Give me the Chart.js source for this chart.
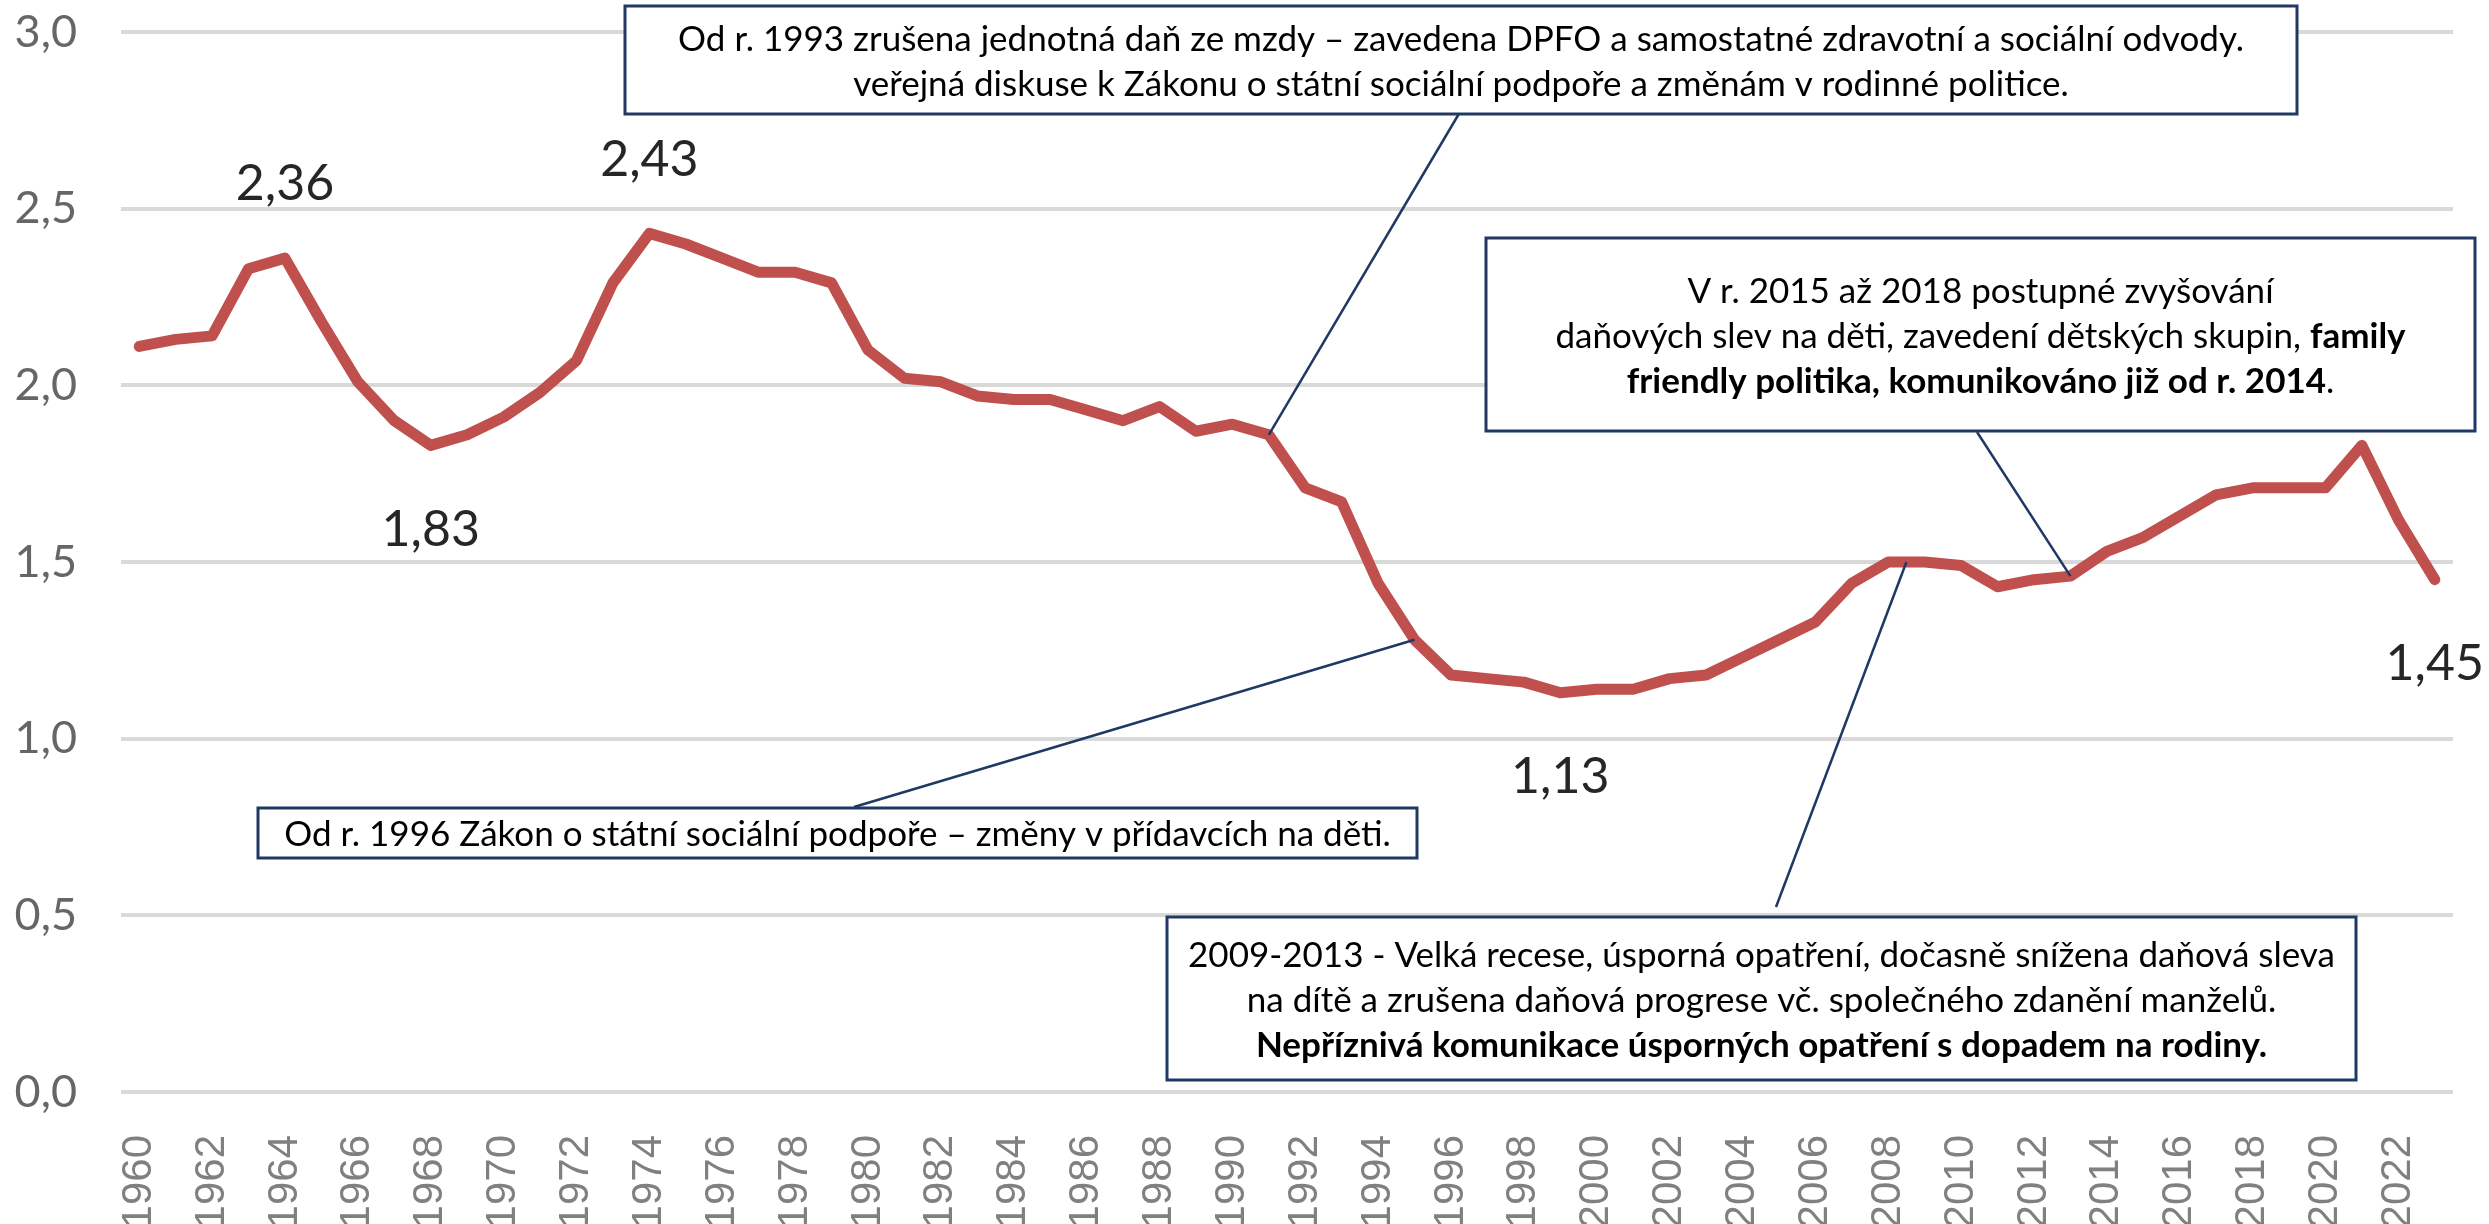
<!DOCTYPE html>
<html>
<head>
<meta charset="utf-8">
<script src="https://cdn.jsdelivr.net/npm/chart.js@4.4.1/dist/chart.umd.min.js"></script>
<style>
  html, body { margin: 0; padding: 0; background: #fff; }
  canvas { display: block; }
</style>
</head>
<body>
<canvas id="chart" width="2489" height="1224"></canvas>
<script>
// Úhrnná plodnost, ČR 1960-2023
const years = [
  '1960','1961','1962','1963','1964','1965','1966','1967','1968','1969',
  '1970','1971','1972','1973','1974','1975','1976','1977','1978','1979',
  '1980','1981','1982','1983','1984','1985','1986','1987','1988','1989',
  '1990','1991','1992','1993','1994','1995','1996','1997','1998','1999',
  '2000','2001','2002','2003','2004','2005','2006','2007','2008','2009',
  '2010','2011','2012','2013','2014','2015','2016','2017','2018','2019',
  '2020','2021','2022','2023'
];
const fertility = [
  2.11, 2.13, 2.14, 2.33, 2.36, 2.18, 2.01, 1.90, 1.83, 1.86,
  1.91, 1.98, 2.07, 2.29, 2.43, 2.40, 2.36, 2.32, 2.32, 2.29,
  2.10, 2.02, 2.01, 1.97, 1.96, 1.96, 1.93, 1.90, 1.94, 1.87,
  1.89, 1.86, 1.71, 1.67, 1.44, 1.28, 1.18, 1.17, 1.16, 1.13,
  1.14, 1.14, 1.17, 1.18, 1.23, 1.28, 1.33, 1.44, 1.50, 1.50,
  1.49, 1.43, 1.45, 1.46, 1.53, 1.57, 1.63, 1.69, 1.71, 1.71,
  1.71, 1.83, 1.62, 1.45
];
const yTicks = [0, 0.5, 1, 1.5, 2, 2.5, 3];

// years that get a value label, and on which side
const labelledYears = ['1964', '1968', '1974', '1999', '2023'];
const labelSides = ['above', 'below', 'above', 'below', 'below'];

// annotation texts: each line is a list of [text, bold]
const note1993 = [
  [['Od r. 1993 zrušena jednotná daň ze mzdy – zavedena DPFO a samostatné zdravotní a sociální odvody.', false]],
  [['veřejná diskuse k Zákonu o státní sociální podpoře a změnám v rodinné politice.', false]]
];
const note2015 = [
  [['V r. 2015 až 2018 postupné zvyšování', false]],
  [['daňových slev na děti, zavedení dětských skupin, ', false], ['family', true]],
  [['friendly politika, komunikováno již od r. 2014', true], ['.', false]]
];
const note1996 = [
  [['Od r. 1996 Zákon o státní sociální podpoře – změny v přídavcích na děti.', false]]
];
const note2009 = [
  [['2009-2013 - Velká recese, úsporná opatření, dočasně snížena daňová sleva', false]],
  [['na dítě a zrušena daňová progrese vč. společného zdanění manželů.', false]],
  [['Nepříznivá komunikace úsporných opatření s dopadem na rodiny.', true]]
];
// which point each callout refers to (fractional index = between two years)
const noteTargets = [[31, 1.86], [53, 1.46], [35, 1.28], [48.5, 1.50]];

const TEXT_FONT = 'Lato, "Open Sans", sans-serif';
const NOTE_SIZE = 35;
const NAVY = '#1F3864';

// box geometry on the canvas, in the same order as notes
const noteBoxes = [
  { lines: note1993, x: 625,  y: 6,   w: 1672, h: 108, from: [1460, 112] },
  { lines: note2015, x: 1486, y: 238, w: 989,  h: 193, from: [1977, 432] },
  { lines: note1996, x: 258,  y: 808, w: 1159, h: 50,  from: [854, 807] },
  { lines: note2009, x: 1167, y: 917, w: 1189, h: 163, from: [1776, 907] }
];

const fmt = v => v.toFixed(2).replace('.', ',');

const notesPlugin = {
  id: 'notes',
  afterDatasetsDraw(chart) {
    const { ctx, scales: { x, y } } = chart;
    ctx.save();

    // value labels at the extremes
    ctx.font = '50px ' + TEXT_FONT;
    ctx.fillStyle = '#262626';
    ctx.textAlign = 'center';
    ctx.textBaseline = 'middle';
    labelledYears.forEach((yr, k) => {
      const i = years.indexOf(yr);
      const px = x.getPixelForValue(i);
      const py = y.getPixelForValue(fertility[i]);
      ctx.fillText(fmt(fertility[i]), px, py + (labelSides[k] === 'above' ? -74 : 84));
    });

    // leader lines
    ctx.strokeStyle = NAVY;
    ctx.lineWidth = 2.5;
    noteBoxes.forEach((b, k) => {
      const t = noteTargets[k];
      ctx.beginPath();
      ctx.moveTo(b.from[0], b.from[1]);
      ctx.lineTo(x.getPixelForValue(t[0]), y.getPixelForValue(t[1]));
      ctx.stroke();
    });

    // boxes with centred rich text
    const lineGap = 45;
    noteBoxes.forEach(b => {
      ctx.fillStyle = '#fff';
      ctx.fillRect(b.x, b.y, b.w, b.h);
      ctx.lineWidth = 3;
      ctx.strokeStyle = NAVY;
      ctx.strokeRect(b.x, b.y, b.w, b.h);

      ctx.fillStyle = '#000';
      ctx.textAlign = 'left';
      ctx.textBaseline = 'middle';
      const cx = b.x + b.w / 2;
      const cy = b.y + b.h / 2 + 2;
      const n = b.lines.length;
      b.lines.forEach((segs, li) => {
        let total = 0;
        segs.forEach(([txt, bold]) => {
          ctx.font = (bold ? 'bold ' : '') + NOTE_SIZE + 'px ' + TEXT_FONT;
          total += ctx.measureText(txt).width;
        });
        let tx = cx - total / 2;
        const ty = cy + (li - (n - 1) / 2) * lineGap;
        segs.forEach(([txt, bold]) => {
          ctx.font = (bold ? 'bold ' : '') + NOTE_SIZE + 'px ' + TEXT_FONT;
          ctx.fillText(txt, tx, ty);
          tx += ctx.measureText(txt).width;
        });
      });
    });

    ctx.restore();
  }
};

new Chart(document.getElementById('chart'), {
  type: 'line',
  data: {
    labels: years,
    datasets: [{
      data: fertility,
      borderColor: '#C0504D',
      borderWidth: 11,
      borderJoinStyle: 'round',
      borderCapStyle: 'round',
      pointRadius: 0,
      tension: 0,
      fill: false
    }]
  },
  options: {
    responsive: false,
    animation: false,
    layout: { padding: { top: 32, right: 36, left: 0, bottom: 0 } },
    plugins: {
      legend: { display: false },
      tooltip: { enabled: false }
    },
    scales: {
      x: {
        type: 'category',
        offset: true,
        grid: { display: false },
        border: { display: false },
        afterFit: s => {
          s.height = 132;
          // rotated labels should not eat into the plot width
          s.paddingLeft = 0;
          s.paddingRight = 0;
        },
        ticks: {
          autoSkip: false,
          minRotation: 90,
          maxRotation: 90,
          padding: 35,
          color: '#808080',
          font: { family: '"Liberation Sans", Arial, sans-serif', size: 42 },
          callback: (v, i) => (i % 2 === 0 ? years[i] : '')
        }
      },
      y: {
        min: 0,
        max: 3,
        afterFit: s => { s.width = 121; },
        afterBuildTicks: s => { s.ticks = yTicks.map(v => ({ value: v })); },
        // invisible tick marks keep the labels away from the plot
        // without the tick padding pushing the chart area down
        grid: { color: '#D9D9D9', lineWidth: 4, drawTicks: true, tickLength: 40, tickColor: 'rgba(0,0,0,0)' },
        border: { display: false },
        ticks: {
          padding: 4,
          color: '#666666',
          font: { family: TEXT_FONT, size: 45 },
          callback: v => v.toFixed(1).replace('.', ',')
        }
      }
    }
  },
  plugins: [notesPlugin]
});
</script>
</body>
</html>
